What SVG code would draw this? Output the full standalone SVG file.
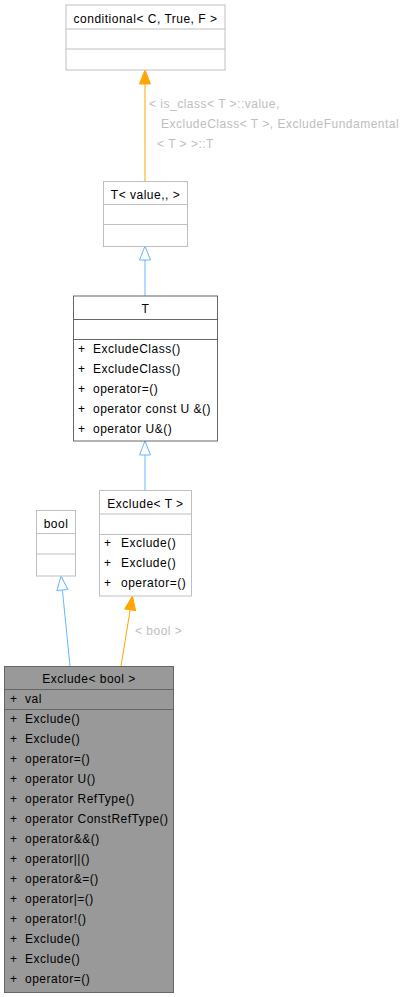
<svg xmlns="http://www.w3.org/2000/svg" width="412" height="997" viewBox="0 0 412 997">
<style>
text{font-family:"Liberation Sans",Arial,sans-serif;font-size:12px;letter-spacing:0.5px;fill:#000}
.t{text-anchor:middle}
.lbl{fill:#bebebe}
.box{fill:#fff;stroke:#bfbfbf;stroke-width:1}
.dark{fill:#fff;stroke:#666;stroke-width:1}
.sel{fill:#999;stroke:#666;stroke-width:1}
.sepg{stroke:#bfbfbf;stroke-width:1}
.sepd{stroke:#666;stroke-width:1}
.blue{stroke:#63b8ff;stroke-width:1;fill:none;marker-end:url(#hollow)}
.orange{stroke:#ffa500;stroke-width:1;fill:none;marker-end:url(#solid)}
</style>
<defs>
<marker id="hollow" markerUnits="userSpaceOnUse" markerWidth="16" markerHeight="13" viewBox="-1 -1 16 13" refX="0" refY="5.5" orient="auto">
<path d="M0,0 L14,5.5 L0,11 Z" fill="#fff" stroke="#63b8ff" stroke-width="1"/>
</marker>
<marker id="solid" markerUnits="userSpaceOnUse" markerWidth="16" markerHeight="13" viewBox="-1 -1 16 13" refX="0" refY="5.5" orient="auto">
<path d="M0,0 L14,5.5 L0,11 Z" fill="#ffa500" stroke="#ffa500" stroke-width="1"/>
</marker>
</defs>
<rect width="412" height="997" fill="#fff"/>
<g id="connectors">
<path class="orange" d="M145,181 L145,84"/>
<path class="blue" d="M145,296 L145,260"/>
<path class="blue" d="M145,490 L145,455"/>
<path class="blue" d="M70,666 L62.4,590"/>
<path class="orange" d="M121,666 L130.2,609.8"/>
<text class="lbl" x="149" y="108">&lt; is_class&lt; T &gt;::value,</text>
<text class="lbl" x="161" y="128">ExcludeClass&lt; T &gt;, ExcludeFundamental</text>
<text class="lbl" x="157" y="148">&lt; T &gt; &gt;::T</text>
<text class="lbl" x="135" y="635">&lt; bool &gt;</text>
</g>
<g id="conditional">
<rect class="box" x="66" y="5" width="159" height="65"/>
<line class="sepg" x1="66" y1="29" x2="225" y2="29"/>
<line class="sepg" x1="66" y1="49" x2="225" y2="49"/>
<text class="t" x="145.5" y="22.5">conditional&lt; C, True, F &gt;</text>
</g>
<g id="T_value">
<rect class="box" x="103.5" y="181.5" width="84" height="65"/>
<line class="sepg" x1="103.5" y1="204.5" x2="187.5" y2="204.5"/>
<line class="sepg" x1="103.5" y1="224.5" x2="187.5" y2="224.5"/>
<text class="t" x="145.5" y="198.5">T&lt; value,, &gt;</text>
</g>
<g id="T">
<rect class="dark" x="73.5" y="296" width="144" height="145"/>
<line class="sepd" x1="73.5" y1="319.5" x2="217.5" y2="319.5"/>
<line class="sepd" x1="73.5" y1="339.5" x2="217.5" y2="339.5"/>
<text class="t" x="145.5" y="312.5">T</text>
<text x="78" y="353">+</text><text x="93" y="353">ExcludeClass()</text>
<text x="78" y="373">+</text><text x="93" y="373">ExcludeClass()</text>
<text x="78" y="393">+</text><text x="93" y="393">operator=()</text>
<text x="78" y="413">+</text><text x="93" y="413">operator const U &amp;()</text>
<text x="78" y="433">+</text><text x="93" y="433">operator U&amp;()</text>
</g>
<g id="ExcludeT">
<rect class="box" x="99.5" y="490.5" width="92" height="105.5"/>
<line class="sepg" x1="99.5" y1="514" x2="191.5" y2="514"/>
<line class="sepg" x1="99.5" y1="534.5" x2="191.5" y2="534.5"/>
<text class="t" x="145.5" y="507.5">Exclude&lt; T &gt;</text>
<text x="104" y="547">+</text><text x="121" y="547">Exclude()</text>
<text x="104" y="567">+</text><text x="121" y="567">Exclude()</text>
<text x="104" y="587">+</text><text x="121" y="587">operator=()</text>
</g>
<g id="bool">
<rect class="box" x="36.5" y="510.5" width="39" height="65.5"/>
<line class="sepg" x1="36.5" y1="533.5" x2="75.5" y2="533.5"/>
<line class="sepg" x1="36.5" y1="554" x2="75.5" y2="554"/>
<text class="t" x="56" y="527.5">bool</text>
</g>
<g id="ExcludeBool">
<rect class="sel" x="4.5" y="666.5" width="169" height="326"/>
<line class="sepd" x1="4.5" y1="689.5" x2="173.5" y2="689.5"/>
<line class="sepd" x1="4.5" y1="709.5" x2="173.5" y2="709.5"/>
<text class="t" x="89" y="683">Exclude&lt; bool &gt;</text>
<text x="10" y="703">+</text><text x="25" y="703">val</text>
<text x="10" y="723">+</text><text x="25" y="723">Exclude()</text>
<text x="10" y="743">+</text><text x="25" y="743">Exclude()</text>
<text x="10" y="763">+</text><text x="25" y="763">operator=()</text>
<text x="10" y="783">+</text><text x="25" y="783">operator U()</text>
<text x="10" y="803">+</text><text x="25" y="803">operator RefType()</text>
<text x="10" y="823">+</text><text x="25" y="823">operator ConstRefType()</text>
<text x="10" y="843">+</text><text x="25" y="843">operator&amp;&amp;()</text>
<text x="10" y="863">+</text><text x="25" y="863">operator||()</text>
<text x="10" y="883">+</text><text x="25" y="883">operator&amp;=()</text>
<text x="10" y="903">+</text><text x="25" y="903">operator|=()</text>
<text x="10" y="923">+</text><text x="25" y="923">operator!()</text>
<text x="10" y="943">+</text><text x="25" y="943">Exclude()</text>
<text x="10" y="963">+</text><text x="25" y="963">Exclude()</text>
<text x="10" y="983">+</text><text x="25" y="983">operator=()</text>
</g>
</svg>
